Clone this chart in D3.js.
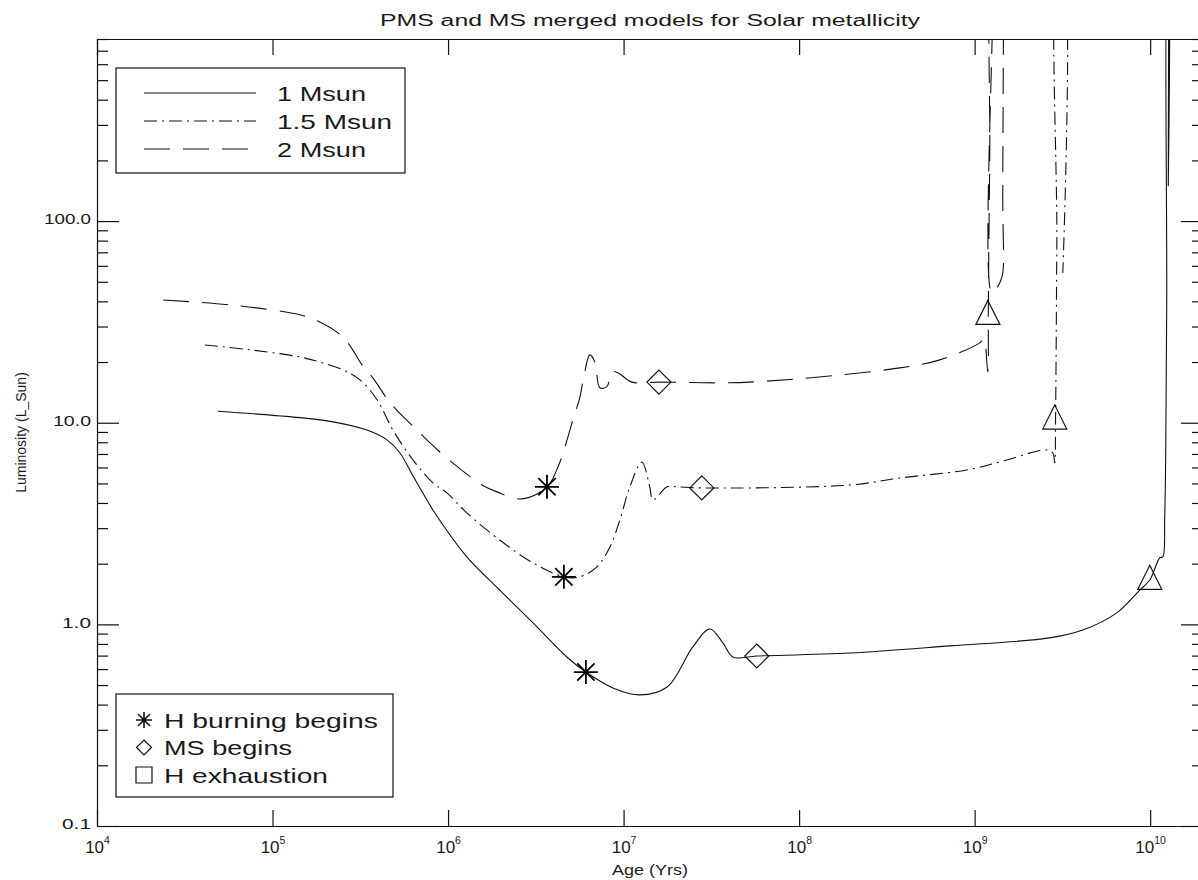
<!DOCTYPE html>
<html><head><meta charset="utf-8">
<script src="https://cdn.jsdelivr.net/npm/d3@7"></script>
<style>
body{margin:0;background:#fff}
text{font-family:"Liberation Sans",Arial,sans-serif;fill:#1a1a1a}
</style>
</head><body><svg id="chart" width="1198" height="880"></svg>
<script>
const titleText = "PMS and MS merged models for Solar metallicity";
const xLabel = "Age (Yrs)";
const yLabel = "Luminosity (L_Sun)";
const xTickValues = [1e4,1e5,1e6,1e7,1e8,1e9,1e10];
const yTickValues = [0.1,1,10,100];
const yTickLabels = ["0.1","1.0","10.0","100.0"];
const seriesNames = ["1 Msun","1.5 Msun","2 Msun"];
const markerNames = ["H burning begins","MS begins","H exhaustion"];

// 1 Msun
const age1 = [4.89e4,1.43e5,2.21e5,3.45e5,4.49e5,5.32e5,6.31e5,7.58e5,8.20e5,1.28e6,1.97e6,3.04e6,4.75e6,6.10e6,8.69e6,1.24e7,1.77e7,2.48e7,3.10e7,3.68e7,4.19e7,5.74e7,1.95e8,7.2e8,2.68e9,4.13e9,6.45e9,8.73e9,9.95e9,1.135e10,1.18e10,1.21e10,1.227e10,1.243e10,1.26e10,1.268e10,1.268e10,1.276e10];
const lum1 = [11.4,10.6,10.1,9.2,8.22,7.08,5.45,4.14,3.69,2.16,1.48,1.02,0.689,0.58,0.484,0.447,0.489,0.773,0.948,0.809,0.689,0.697,0.721,0.782,0.857,0.937,1.14,1.48,1.66,2.14,2.16,3.41,7.33,40.6,2000,2000,150,2000];
// 1.5 Msun
const age15 = [4.12e4,7.44e4,1.43e5,1.86e5,2.52e5,3.15e5,3.94e5,4.85e5,6.31e5,8.20e5,9.85e5,1.28e6,1.97e6,3.04e6,4.57e6,5.64e6,7.05e6,8.36e6,9.53e6,1.086e7,1.27e7,1.41e7,1.47e7,1.77e7,2.01e7,2.79e7,1.95e8,3.75e8,9.02e8,1.39e9,2.58e9,2.79e9,2.86e9,2.89e9,2.94e9,3.01e9,3.18e9,3.18e9];
const lum15 = [24.3,23.0,21.2,20.0,18.3,16.3,13.0,9.2,6.54,5.03,4.49,3.57,2.62,2.02,1.72,1.72,1.93,2.42,3.30,4.81,6.39,4.81,4.14,4.81,4.81,4.75,4.91,5.32,5.83,6.39,7.33,7.08,6.32,10.3,78,2000,2000,55.3];
// 2 Msun
const age2 = [2.38e4,5.72e4,1.43e5,1.86e5,2.36e5,2.69e5,3.27e5,3.73e5,4.54e5,5.18e5,6.65e5,7.68e5,9.98e5,1.153e6,1.56e6,1.90e6,2.63e6,3.66e6,4.34e6,4.82e6,5.14e6,5.64e6,5.86e6,6.43e6,6.86e6,7.33e6,8.03e6,8.58e6,9.28e6,1.115e7,1.59e7,5.24e7,3.75e8,6.33e8,1.07e9,1.127e9,1.188e9,1.196e9,1.204e9,1.22e9,1.236e9,1.253e9,1.253e9,1.39e9,1.446e9,1.446e9,1.466e9];
const lum2 = [40.6,38.4,34.3,31.6,27.9,24.9,19.1,16.7,13.0,11.4,9.2,8.12,6.61,5.97,4.91,4.54,4.19,4.81,6.39,8.51,10.3,13.4,15.9,21.7,20.0,14.9,15.1,17.9,17.7,15.9,15.9,15.9,18.7,20.5,24.9,26.1,17.9,35.1,72,226,2000,2000,44.0,49.3,55.3,127,2000];

// markers (order: 1, 1.5, 2 Msun)
const hBurnAge = [6.10e6,4.57e6,3.66e6];
const hBurnLum = [0.58,1.72,4.81];
const msAge = [5.74e7,2.79e7,1.59e7];
const msLum = [0.697,4.75,15.9];
const hExhAge = [9.95e9,2.86e9,1.19e9];
const hExhLum = [1.70,10.6,35];

const dashStyles = [null,"13,5,2,5","26,13"];

const L = 97, R = 1203, T = 39, B = 826;
const svg = d3.select("#chart");
const x = d3.scaleLog().domain([1e4,2e10]).range([L,R]);
const y = d3.scaleLog().domain([0.1,800]).range([B,T]);

const minorY = [];
for (let e=-1;e<=2;e++) for (let m=2;m<=9;m++){ const v=m*Math.pow(10,e); if (v<=800) minorY.push(v); }

// axes
svg.append("g").attr("transform",`translate(0,${B})`)
  .call(d3.axisBottom(x).tickValues(xTickValues).tickSizeInner(-16).tickSizeOuter(0).tickFormat(()=>""))
  .call(g=>{
    g.selectAll(".tick text").each(function(d){
      const t=d3.select(this).attr("font-size",17).attr("y",27).attr("dy",null).attr("text-anchor","middle");
      t.append("tspan").text("10");
      t.append("tspan").attr("dy",-9).attr("font-size",10.5).text(Math.round(Math.log10(d)));
    });
  });
svg.append("g").attr("transform",`translate(0,${T})`)
  .call(d3.axisTop(x).tickValues(xTickValues).tickSizeInner(-16).tickSizeOuter(0).tickFormat(()=>""));
const yLabelWidths = [29,29,38,47];
svg.append("g").attr("transform",`translate(${L},0)`)
  .call(d3.axisLeft(y).tickValues(yTickValues).tickSizeInner(-22).tickSizeOuter(0).tickPadding(6)
    .tickFormat((d,i)=>yTickLabels[i]))
  .call(g=>g.selectAll(".tick text").attr("font-size",14).attr("dy","0.2em")
    .attr("textLength",(d,i)=>yLabelWidths[i]).attr("lengthAdjust","spacingAndGlyphs"));
svg.append("g").attr("transform",`translate(${L},0)`)
  .call(d3.axisLeft(y).tickValues(minorY).tickSizeInner(-11).tickSizeOuter(0).tickFormat(()=>""))
  .call(g=>g.select(".domain").remove());
svg.append("g").attr("transform",`translate(${R},0)`)
  .call(d3.axisRight(y).tickValues(yTickValues).tickSizeInner(-22).tickSizeOuter(0).tickFormat(()=>""));
svg.append("g").attr("transform",`translate(${R},0)`)
  .call(d3.axisRight(y).tickValues(minorY).tickSizeInner(-11).tickSizeOuter(0).tickFormat(()=>""))
  .call(g=>g.select(".domain").remove());
svg.selectAll(".domain, .tick line").attr("stroke","#111").attr("stroke-width",1.2);

// titles
svg.append("text").attr("x",(L+R)/2).attr("y",26).attr("text-anchor","middle")
  .attr("font-size",16).attr("textLength",540).attr("lengthAdjust","spacingAndGlyphs").text(titleText);
svg.append("text").attr("x",(L+R)/2).attr("y",875).attr("text-anchor","middle")
  .attr("font-size",14).attr("textLength",76).attr("lengthAdjust","spacingAndGlyphs").text(xLabel);
svg.append("text").attr("transform",`translate(26,${(T+B)/2}) rotate(-90)`).attr("text-anchor","middle")
  .attr("font-size",14).text(yLabel);

// clip
svg.append("clipPath").attr("id","clip").append("rect").attr("x",L).attr("y",T).attr("width",R-L).attr("height",B-T);

const line = d3.line().x(d=>x(d[0])).y(d=>y(d[1])).curve(d3.curveCatmullRom.alpha(0.5));
const series = [[age1,lum1],[age15,lum15],[age2,lum2]];
const gLines = svg.append("g").attr("clip-path","url(#clip)");
series.forEach((s,i)=>{
  const pts = s[0].map((a,j)=>[a,s[1][j]]);
  gLines.append("path").attr("d",line(pts)).attr("fill","none").attr("stroke","#111")
    .attr("stroke-width",1.1).attr("stroke-dasharray",dashStyles[i]);
});

// marker paths
function asterisk(r){ const d=r*0.72; return `M${-r},0L${r},0M0,${-r}L0,${r}M${-d},${-d}L${d},${d}M${-d},${d}L${d},${-d}`; }
function diamond(r){ return `M0,${-r}L${r},0L0,${r}L${-r},0Z`; }
function triangle(r){ return `M0,${-r*1.05}L${r},${r*0.95}L${-r},${r*0.95}Z`; }
function square(r){ return `M${-r},${-r}H${r}V${r}H${-r}Z`; }

const gM = svg.append("g");
hBurnAge.forEach((a,i)=>gM.append("path").attr("transform",`translate(${x(a)},${y(hBurnLum[i])})`)
  .attr("d",asterisk(12)).attr("stroke","#000").attr("stroke-width",1.8).attr("fill","none"));
msAge.forEach((a,i)=>gM.append("path").attr("transform",`translate(${x(a)},${y(msLum[i])})`)
  .attr("d",diamond(12)).attr("stroke","#111").attr("stroke-width",1.2).attr("fill","none"));
hExhAge.forEach((a,i)=>gM.append("path").attr("transform",`translate(${x(a)},${y(hExhLum[i])})`)
  .attr("d",triangle(12)).attr("stroke","#111").attr("stroke-width",1.2).attr("fill","none"));

// legend 1
const lg1 = svg.append("g");
lg1.append("rect").attr("x",116).attr("y",68).attr("width",289).attr("height",105).attr("fill","#fff").attr("stroke","#111").attr("stroke-width",1.2);
const lg1Widths = [89,115,89];
seriesNames.forEach((n,i)=>{
  const yy = 93+i*28;
  lg1.append("line").attr("x1",144).attr("x2",256).attr("y1",yy).attr("y2",yy).attr("stroke","#111").attr("stroke-width",1.1).attr("stroke-dasharray",dashStyles[i]);
  lg1.append("text").attr("x",277).attr("y",yy+7.5).attr("font-size",21)
    .attr("textLength",lg1Widths[i]).attr("lengthAdjust","spacingAndGlyphs").text(n);
});
// legend 2
const lg2 = svg.append("g");
lg2.append("rect").attr("x",116).attr("y",694).attr("width",277).attr("height",103).attr("fill","#fff").attr("stroke","#111").attr("stroke-width",1.2);
const legSyms = [asterisk(8), diamond(7.5), square(8)];
const lg2Widths = [214,128,164];
markerNames.forEach((n,i)=>{
  const yy = 720+i*27.5;
  lg2.append("path").attr("transform",`translate(144,${yy})`).attr("d",legSyms[i]).attr("fill","none").attr("stroke","#111").attr("stroke-width",i==0?1.6:1.2);
  lg2.append("text").attr("x",164).attr("y",yy+7.5).attr("font-size",21)
    .attr("textLength",lg2Widths[i]).attr("lengthAdjust","spacingAndGlyphs").text(n);
});
</script></body></html>
